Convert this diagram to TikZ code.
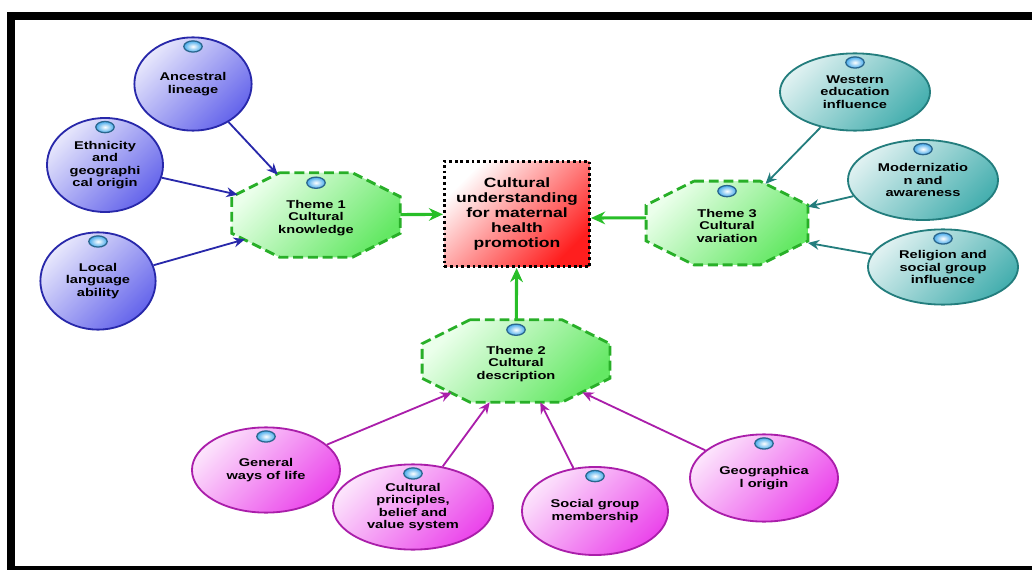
\documentclass[tikz,border=0pt]{standalone}
\usepackage{fontspec}
\newfontfamily\mapfont{Liberation Sans}[FakeStretch=1.3]
\definecolor{kblue}{RGB}{40,40,170}
\definecolor{kbluefill}{RGB}{100,100,235}
\definecolor{vteal}{RGB}{35,125,125}
\definecolor{vtealfill}{RGB}{70,175,175}
\definecolor{dpink}{RGB}{170,30,170}
\definecolor{dpinkfill}{RGB}{235,70,235}
\definecolor{themegreen}{RGB}{40,175,40}
\definecolor{themefill}{RGB}{100,232,100}
\definecolor{arrowgreen}{RGB}{40,190,40}
\definecolor{corered}{RGB}{255,30,30}
\definecolor{bubbleblue}{RGB}{70,170,235}
\usetikzlibrary{arrows.meta,positioning,shapes.geometric,backgrounds}
\tikzset{
  leaf/.style={ellipse,inner sep=0pt,line width=1.3pt,align=center,
    font=\mapfont\bfseries\fontsize{8}{8.8}\selectfont},
  knowleaf/.style={leaf,draw=kblue,top color=kbluefill!15,bottom color=kbluefill,shading angle=45},
  varleaf/.style={leaf,draw=vteal,top color=vtealfill!18,bottom color=vtealfill,shading angle=45},
  descleaf/.style={leaf,draw=dpink,top color=dpinkfill!15,bottom color=dpinkfill,shading angle=45},
  themebox/.style={rectangle,inner sep=0pt,align=center,
    font=\mapfont\bfseries\fontsize{8}{8.8}\selectfont},
  octa/.style={draw=themegreen,line width=2pt,dash pattern=on 7pt off 3.5pt,
    top color=green!8,bottom color=themefill,shading angle=45},
  bubble/.style={draw=bubbleblue!60!black,line width=0.9pt,inner color=white,outer color=bubbleblue},
  toknow/.style={draw=kblue,line width=1.3pt,-{Stealth[length=8pt,width=7pt]}},
  tovar/.style={draw=vteal,line width=1.3pt,-{Stealth[length=8pt,width=7pt]}},
  todesc/.style={draw=dpink,line width=1.3pt,-{Stealth[length=8pt,width=7pt]}},
  tocore/.style={draw=arrowgreen,line width=2.2pt,-{Stealth[length=10pt,width=9pt]}}
}
\begin{document}
\begin{tikzpicture}[x=0.025cm,y=-0.025cm]
  \useasboundingbox (0,0) rectangle (1032,570);
  % frame
  \fill[black] (7,12) rectangle (1032,20);
  \fill[black] (7,12) rectangle (15,570);
  \fill[black] (7,566) rectangle (1032,570);

  % core and themes
  \node[rectangle,draw=black,line width=2pt,dash pattern=on 2pt off 2pt,
        top color=white,bottom color=corered,shading angle=45,
        minimum width=3.63cm,minimum height=2.63cm,inner sep=0pt,align=center,
        font=\mapfont\bfseries\fontsize{9.6}{10.6}\selectfont]
    (core) at (517,214) {Cultural\\understanding\\for maternal\\health\\promotion};
  \node[themebox,minimum width=4.2cm,minimum height=2.1cm] (th1) at (316,215)
    {\\[1pt]Theme 1\\Cultural\\knowledge};
  \node[themebox,minimum width=4.68cm,minimum height=2.05cm] (th2) at (516,361)
    {\\[1pt]Theme 2\\Cultural\\description};
  \node[themebox,minimum width=4.03cm,minimum height=2.08cm] (th3) at (727,223)
    {\\[1pt]Theme 3\\Cultural\\variation};
  \begin{scope}[on background layer]
    \foreach \n in {th1,th2,th3}
      \path[octa] ([xshift=1.2cm]\n.north west) -- ([xshift=-1.2cm]\n.north east)
        -- ([yshift=-0.6cm]\n.north east) -- ([yshift=0.6cm]\n.south east)
        -- ([xshift=-1.2cm]\n.south east) -- ([xshift=1.2cm]\n.south west)
        -- ([yshift=0.6cm]\n.south west) -- ([yshift=-0.6cm]\n.north west) -- cycle;
  \end{scope}

  % theme 1 leaves
  \node[knowleaf,minimum width=2.93cm,minimum height=2.33cm] (ances) at (193,84) {Ancestral\\lineage};
  \node[knowleaf,minimum width=2.9cm,minimum height=2.35cm] (ethn) at (105,165) {Ethnicity\\and\\geographi\\cal origin};
  \node[knowleaf,minimum width=2.88cm,minimum height=2.43cm] (local) at (98,281) {Local\\language\\ability};

  % theme 3 leaves
  \node[varleaf,minimum width=3.75cm,minimum height=1.93cm] (west) at (855,92) {Western\\education\\influence};
  \node[varleaf,minimum width=3.75cm,minimum height=2cm] (modern) at (923,180) {Modernizatio\\n and\\awareness};
  \node[varleaf,minimum width=3.75cm,minimum height=1.88cm] (relig) at (943,267) {Religion and\\social group\\influence};

  % theme 2 leaves
  \node[descleaf,minimum width=3.7cm,minimum height=2.13cm] (general) at (266,470) {General\\ways of life};
  \node[descleaf,minimum width=4cm,minimum height=2.13cm] (princ) at (413,507) {Cultural\\principles,\\belief and\\value system};
  \node[descleaf,minimum width=3.65cm,minimum height=2.2cm] (social) at (595,511) {Social group\\membership};
  \node[descleaf,minimum width=3.7cm,minimum height=2.18cm] (geo) at (764,478) {Geographica\\l origin};

  % bubbles
  \foreach \n in {ances,ethn,local,th1,th2,th3,west,modern,relig,general,princ,social,geo}
    \draw[bubble] ([yshift=-0.25cm]\n.north) ellipse [x radius=0.23cm,y radius=0.14cm];

  % connectors, ending on the octagon edges
  \draw[toknow] (ances) -- ([xshift=1.15cm,yshift=-0.05cm]th1.north west);
  \draw[toknow] (ethn) -- ([xshift=0.15cm,yshift=-0.55cm]th1.north west);
  \draw[toknow] (local) -- ([xshift=0.33cm,yshift=0.45cm]th1.south west);
  \draw[tovar] (west) -- ([xshift=-1.06cm,yshift=-0.07cm]th3.north east);
  \draw[tovar] (modern) -- ([yshift=-0.64cm]th3.north east);
  \draw[tovar] (relig) -- ([yshift=0.55cm]th3.south east);
  \draw[todesc] (general) -- ([xshift=0.74cm,yshift=0.24cm]th2.south west);
  \draw[todesc] (princ) -- ([xshift=1.69cm]th2.south west);
  \draw[todesc] (social) -- ([xshift=-1.74cm]th2.south east);
  \draw[todesc] (geo) -- ([xshift=-0.69cm,yshift=0.25cm]th2.south east);
  \draw[tocore] (th1) -- (core);
  \draw[tocore] ([yshift=0.13cm]th3.west) -- ([yshift=-0.1cm]core.east);
  \draw[tocore] (th2) -- (core);
\end{tikzpicture}
\end{document}
